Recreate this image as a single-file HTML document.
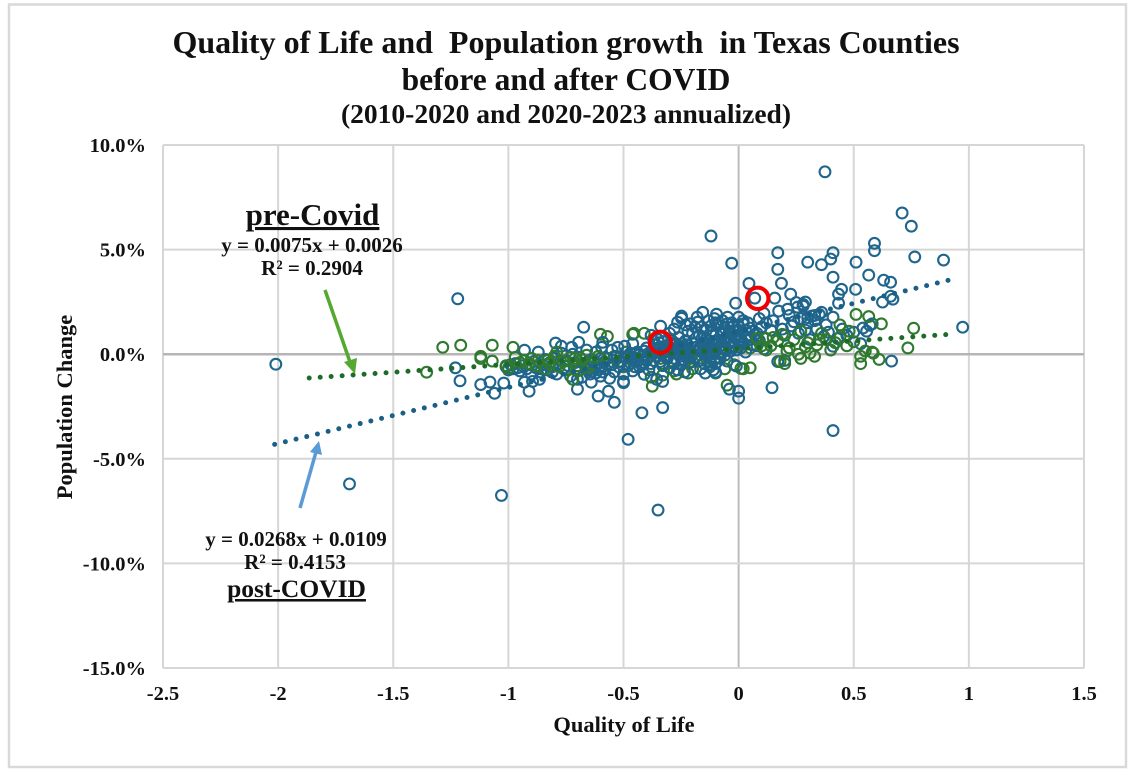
<!DOCTYPE html>
<html lang="en">
<head>
<meta charset="utf-8">
<title>Quality of Life and Population growth in Texas Counties</title>
<style>
html,body{margin:0;padding:0;background:#fff;}
svg{display:block;}
text{font-family:"Liberation Serif",serif;font-weight:bold;fill:#111;white-space:pre;}
</style>
</head>
<body>
<svg id="chart" xmlns="http://www.w3.org/2000/svg" width="1136" height="775" viewBox="0 0 1136 775">
  <rect x="9" y="4.5" width="1117" height="762.5" fill="#fff" stroke="#d9d9d9" stroke-width="2.5"/>
  <g id="grid"></g>
  <g id="points"></g>
  <g id="trends"></g>
  <g id="ticks"></g>

  <text x="566" y="53" text-anchor="middle" font-size="32">Quality of Life and  Population growth  in Texas Counties</text>
  <text x="566" y="90" text-anchor="middle" font-size="31.5">before and after COVID</text>
  <text x="566" y="123" text-anchor="middle" font-size="27.5">(2010-2020 and 2020-2023 annualized)</text>

  <text x="624" y="732" text-anchor="middle" font-size="22.5">Quality of Life</text>
  <text transform="translate(72,407) rotate(-90)" text-anchor="middle" font-size="22.5">Population Change</text>

  <text x="312.5" y="225" text-anchor="middle" font-size="31" text-decoration="underline">pre-Covid</text>
  <text x="312" y="252" text-anchor="middle" font-size="21">y = 0.0075x + 0.0026</text>
  <text x="312" y="275" text-anchor="middle" font-size="21">R² = 0.2904</text>

  <text x="296" y="546" text-anchor="middle" font-size="21">y = 0.0268x + 0.0109</text>
  <text x="295" y="569" text-anchor="middle" font-size="21">R² = 0.4153</text>
  <text x="296.5" y="597" text-anchor="middle" font-size="25.5" text-decoration="underline">post-COVID</text>

  <g>
    <line x1="325" y1="290" x2="350" y2="362" stroke="#55a832" stroke-width="3.5"/>
    <polygon points="355,374 344,362 357,358" fill="#55a832"/>
  </g>
  <g>
    <line x1="300" y1="508" x2="316" y2="452" stroke="#5b9bd5" stroke-width="3.5"/>
    <polygon points="319,441 310,452 322,455" fill="#5b9bd5"/>
  </g>
</svg>

<script>
const xTicks = [-2.5, -2, -1.5, -1, -0.5, 0, 0.5, 1, 1.5];
const xTickLabels = ["-2.5", "-2", "-1.5", "-1", "-0.5", "0", "0.5", "1", "1.5"];
const yTicks = [10, 5, 0, -5, -10, -15];
const yTickLabels = ["10.0%", "5.0%", "0.0%", "-5.0%", "-10.0%", "-15.0%"];

// Post-COVID counties: [quality of life, population change %]
const postCovidOutliers = [
[-2.01,-0.48],[-1.69,-6.2],[-1.03,-6.75],[-0.35,-7.45],[-0.48,-4.07],[-0.42,-2.8],[-0.33,-2.55],[-1.22,2.65],
[-1.21,-1.27],[-1.23,-0.65],[-1.12,-1.45],[-1.08,-1.33],[-1.06,-1.87],[-1.02,-1.38],[-0.12,5.65],[-0.03,4.35],
[0.045,3.38],[-0.013,2.44],[0.375,8.72],[0.71,6.75],[0.75,6.12],[0.59,5.3],[0.59,4.95],[0.41,4.85],[0.40,4.55],
[0.30,4.4],[0.36,4.28],[0.51,4.4],[0.765,4.65],[0.89,4.5],[0.17,4.85],[0.17,4.06],[0.41,3.68],[0.565,3.78],
[0.63,3.54],[0.66,3.44],[0.186,3.39],[0.447,3.1],[0.508,3.1],[0.434,2.87],[0.66,2.77],[0.67,2.63],[0.625,2.49],
[0.434,2.44],[0.226,2.87],[0.29,2.49],[0.973,1.29],[0.664,-0.33],[0.5,1.05],[0.556,1.1],[0.41,0.38],[0.41,1.77],
[0.36,2.0],[0.317,1.82],[0.41,-3.65],[0.145,-1.6],[-0.04,-1.67],[0,-2.1],[0,-1.77],[0.157,2.68],[0.07,2.68],
[0.174,2.06],[0.213,2.15],[0.25,2.47],[0.256,2.25],[0.28,2.38],[0.3,1.75],[0.33,1.6],[0.27,1.7],[0.24,1.55],
[-0.156,2.0],[-0.18,1.77],[-0.178,1.53],[-0.096,1.91],[-0.048,1.77],[0,1.77],[-0.248,1.82],[-0.248,1.72],
[-0.265,1.53],[-0.339,1.34],[-0.673,1.29],[-0.795,0.53],[-0.695,0.57],[-0.93,0.19],[-0.87,0.1],[-0.725,0.33],
[-0.77,0.38],[-0.59,0.57],[-0.595,0.33],[-0.495,0.38],[-0.525,0.33],[-0.61,-2.0],[-0.54,-2.3],[-0.565,-1.77],
[-0.70,-1.67],[-0.91,-1.77],[-0.33,-1.3],[-0.356,-1.2],[-0.5,-1.3],[-0.5,-1.36],[-0.41,-0.96],[-0.64,-1.34],
[-0.865,-1.2],[-0.895,-1.3],[-0.93,-1.34],[-0.7,-1.2],[-0.81,-0.86],[-0.1,-0.86],[-0.05,-0.33],[-0.01,-0.57],
[0.08,1.0],[0.12,1.5],[0.15,1.6],[0.19,1.2],[0.2,0.9],[0.23,1.35],[0.26,1.0],[0.34,1.2],[0.37,0.85],[0.31,0.7],
[0.29,1.15],[0.38,1.4],[0.43,0.75],[0.47,0.9],[0.2,-0.3],[0.17,-0.35],[0.28,2.3],[0.35,1.9],[0.3,1.5],[0.54,1.25],
[0.57,1.38],[0.58,1.45],[0.53,0.5],[0.45,1.2],[0.39,1.05],[0.11,1.95],[0.14,1.15],[0.09,1.7],[0.22,1.85],[0.33,1.85]
];
const postCovidCore = [
[-1.01,-0.6],[-1.0,-0.75],[-0.99,-0.5],[-0.98,-0.7],[-0.97,-0.45],[-0.96,-0.65],[-0.95,-0.8],[-0.94,-0.55],
[-0.92,-0.7],[-0.91,-0.5],[-0.9,-0.95],[-0.89,-0.35],[-0.88,-0.65],[-0.86,-0.85],[-0.85,-0.5],[-0.84,-0.25],
[-0.83,-0.75],[-0.82,-0.4],[-0.81,-0.6],[-0.8,-0.2],[-0.79,-0.95],[-0.78,-0.45],[-0.77,0.05],[-0.76,-0.7],
[-0.75,-0.3],[-0.74,-0.55],[-0.73,-1.05],[-0.72,0],[-0.71,-0.4],[-0.7,-0.8],[-0.69,-0.15],[-0.68,-1.1],[-0.67,-0.5],
[-0.66,-0.75],[-0.65,-0.4],[-0.645,-0.95],[-0.64,-0.6],[-0.635,-0.8],[-0.63,-0.3],[-0.625,-0.7],[-0.62,-0.9],
[-0.615,-0.5],[-0.61,-0.75],[-0.605,-0.6],[-0.6,-1.05],[-0.595,-0.65],[-0.59,-0.85],[-0.585,-0.4],[-0.58,-0.7],
[-0.57,-0.2],[-0.56,-1.15],[-0.55,-0.5],[-0.54,-0.85],[-0.53,-0.1],[-0.52,-0.6],[-0.51,-0.35],[-0.5,-0.95],
[-0.49,-0.15],[-0.48,-0.55],[-0.47,0.05],[-0.46,-0.8],[-0.45,-0.3],[-0.44,0.1],[-0.43,-0.6],[-0.42,-0.1],
[-0.41,-0.4],[-0.4,0.3],[-0.39,-0.75],[-0.38,0.05],[-0.37,-0.3],[-0.36,0.45],[-0.35,0.7],[-0.345,0.55],[-0.34,0.35],
[-0.335,0.8],[-0.33,-0.55],[-0.325,0.6],[-0.32,0.1],[-0.31,-0.2],[-0.3,0.25],[-0.29,0.65],[-0.28,-0.45],[-0.27,0.05],
[-0.265,0.35],[-0.26,0.8],[-0.255,-0.1],[-0.25,0.2],[-0.245,0.5],[-0.24,-0.25],[-0.235,0.1],[-0.23,0.65],[-0.225,-0.05],
[-0.22,0.3],[-0.215,-0.4],[-0.21,0.15],[-0.2,0.55],[-0.19,-0.15],[-0.18,0.35],[-0.17,0.9],[-0.165,-0.3],[-0.16,0.1],
[-0.155,0.55],[-0.15,-0.45],[-0.145,0.25],[-0.14,0.75],[-0.135,-0.1],[-0.13,0.35],[-0.125,-0.6],[-0.12,0.05],
[-0.115,0.5],[-0.11,1.1],[-0.105,-0.25],[-0.1,0.2],[-0.095,0.65],[-0.09,1.4],[-0.085,-0.15],[-0.08,0.4],[-0.075,1.0],
[-0.07,0.1],[-0.065,0.7],[-0.06,1.25],[-0.055,0.3],[-0.05,0.85],[-0.045,0.5],[-0.04,1.1],[-0.035,0.15],[-0.03,0.65],
[-0.025,1.3],[-0.02,0.4],[-0.015,0.9],[-0.01,0.2],[-0.005,1.15],[0,0.6],[0.005,0.85],[0.01,0.3],[0.015,1.05],[0.02,0.55],
[0.03,0.1],[0.04,0.8],[0.05,1.25],[0.06,0.45],[0.07,0.95],[0.09,0.65],[0.1,1.3],[0.11,0.25],[-0.22,1.1],[-0.21,1.45],
[-0.16,1.3],[-0.13,1.6],[-0.1,1.5],[-0.07,1.6],[-0.3,1.0],[-0.38,0.9],[-0.46,0.5],[-0.55,0.2],[-0.62,0.1],[-0.66,0.2]
];
const postCovidDenseCenter = [
[-0.48,-0.1],[-0.47,-0.42],[-0.46,-0.15],[-0.45,-0.6],[-0.44,-0.35],[-0.43,0.0],[-0.42,-0.5],[-0.41,0.15],[-0.4,-0.2],
[-0.39,0.05],[-0.38,-0.45],[-0.37,0.25],[-0.36,-0.1],[-0.35,0.3],[-0.34,-0.35],[-0.33,0.15],[-0.32,-0.1],[-0.31,0.4],
[-0.3,-0.65],[-0.29,0.1],[-0.285,0.45],[-0.28,-0.2],[-0.275,0.25],[-0.27,0.5],[-0.265,-0.75],[-0.26,0.0],[-0.255,0.3],
[-0.25,-0.5],[-0.245,0.05],[-0.24,0.35],[-0.235,-0.85],[-0.23,0.15],[-0.225,0.45],[-0.22,-0.15],[-0.215,0.2],
[-0.17,0.3],[-0.165,-0.7],[-0.16,0.55],[-0.155,0.1],[-0.15,0.8],[-0.145,-0.9],[-0.14,0.4],[-0.135,0.05],[-0.13,0.65],
[-0.125,-0.35],[-0.12,1.35],[-0.115,0.9],[-0.11,-0.75],[-0.105,1.7],[-0.1,-0.45],[-0.09,0.7],[-0.08,-0.2],[-0.07,0.95],
[-0.06,-0.05],[-0.05,1.45],[-0.04,0.55],[-0.03,0.3],[-0.02,1.1],[-0.01,0.85],[0,1.35],[0.01,0.7],[0.02,1.6],[0.03,1.15],
[0.04,1.5],[0.05,0.7],[0.06,1.1],[0.08,0.4],[-0.2,1.0],[-0.19,1.3],[-0.28,1.2],[-0.23,1.4],[-0.14,1.15],[-0.03,1.5],[0.02,1.45]
];
// Pre-COVID counties drawn beneath the post-COVID cloud (centre of the band)
const preCovidUnderlay = [
[-0.6,0.95],[-0.57,0.85],[-0.6,-0.2],[-0.57,-0.5],[-0.54,-0.1],[-0.52,-0.35],[-0.49,0.1],[-0.47,-0.2],[-0.45,0.0],
[-0.455,1.0],[-0.46,0.95],[-0.41,1.0],[-0.38,-1.1],[-0.375,-1.53],[-0.4,-0.3],[-0.37,0.1],[-0.34,-0.2],[-0.31,0.25],
[-0.28,-0.4],[-0.22,-0.9],[-0.28,-0.8],[-0.25,0.35],[-0.21,-0.1],[-0.18,0.2],[-0.15,0.4],[-0.12,-0.15],[-0.1,-0.9],
[-0.1,0.5],[-0.08,0.1],[-0.05,-1.48],[-0.03,1.0],[-0.02,-0.5],[0.01,-0.68],[0.02,-0.7],[0.05,-0.65],[0.05,0.3],
[-0.2,-0.35],[-0.14,-0.2],[-0.06,0.2],[0.0,0.35],[-0.33,-0.45],[-0.5,-0.6],[-0.33,-1.0],[-0.27,-0.95],[-0.2,-0.7],[-0.06,-0.7]
];
// Pre-COVID counties drawn above the post-COVID cloud (left and right ends)
const preCovidOverlay = [
[-1.355,-0.86],[-1.285,0.33],[-1.207,0.43],[-1.12,-0.1],[-1.12,-0.2],[-1.07,-0.33],[-1.07,0.43],[-0.98,0.33],[-1.0,-0.67],
[-0.95,-0.4],[-0.9,-0.2],[-0.88,-0.55],[-0.84,-0.7],[-0.8,-0.1],[-0.79,0.1],[-0.76,-0.35],
[-0.73,-0.15],[-0.7,-0.55],[-0.72,-1.2],[-0.68,-0.25],[-0.66,-0.05],[-0.64,-0.45],[-0.75,-0.75],[-0.83,-0.3],
[-0.97,-0.15],[-1.01,-0.55],[-0.93,-0.3],[-0.91,-0.45],[-0.87,-0.3],
[-0.82,-0.45],[-0.78,-0.6],[-0.71,-0.2],[-0.69,-0.75],[-0.65,-0.6],[-0.61,-0.1],
[0.08,0.75],[0.12,0.75],[0.12,0.2],[0.15,0.8],[0.18,-0.35],[0.2,-0.45],[0.22,0.3],[0.26,0.0],[0.27,-0.2],[0.3,0.55],
[0.33,-0.1],[0.34,0.45],[0.38,0.7],[0.4,0.2],[0.44,0.8],[0.47,0.4],[0.5,0.6],[0.53,-0.45],[0.58,0.1],[0.61,-0.25],
[0.585,0.05],[0.53,-0.1],[0.51,1.9],[0.565,1.8],[0.62,1.45],[0.44,1.4],[0.76,1.24],[0.735,0.3],[0.55,0.15],[0.48,1.1],
[0.36,1.0],[0.27,1.1],[0.19,0.95],[0.1,0.4],[0.14,0.4],[0.17,0.65],[0.21,0.15],[0.24,0.7],[0.29,0.35],[0.31,0.05],[0.35,0.7],[0.42,0.55]
];
// Highlighted counties: [quality of life, population change %]
const highlightedPoints = [[-0.34,0.57],[0.083,2.67]];

// Trendline coefficients (slope, intercept, in fractions) and x extents
const postCovidFit = [0.0268, 0.0109];
const preCovidFit = [0.0075, 0.0026];
const postCovidRange = [-2.015, 0.93];
const preCovidRange = [-1.865, 0.925];

const NS = 'http://www.w3.org/2000/svg';
const xDomain = [-2.5, 1.5];
const yDomain = [-15, 10];
function xScale(v){ return 163 + (v - xDomain[0]) * (1084 - 163) / (xDomain[1] - xDomain[0]); }
function yScale(v){ return 145 + (yDomain[1] - v) * (668 - 145) / (yDomain[1] - yDomain[0]); }
function make(tag, attrs, parent){
  const el = document.createElementNS(NS, tag);
  for (const k in attrs) el.setAttribute(k, attrs[k]);
  parent.appendChild(el);
  return el;
}
const grid = document.getElementById('grid');
const pointsG = document.getElementById('points');
const trends = document.getElementById('trends');
const ticks = document.getElementById('ticks');

xTicks.forEach(function(t, i){
  const isZero = t === 0;
  const line = make('line', {x1:xScale(t), x2:xScale(t), y1:yScale(yDomain[1]), y2:yScale(yDomain[0]), stroke:isZero?'#bdbdbd':'#d6d6d6', 'stroke-width':2}, grid);
  
  
  const label = make('text', {x:xScale(t), y:700, 'text-anchor':'middle', 'font-size':20.5}, ticks);
  
  
  label.textContent = xTickLabels[i];
});
yTicks.forEach(function(t, i){
  const isZero = t === 0;
  const line = make('line', {x1:xScale(xDomain[0]), x2:xScale(xDomain[1]), y1:yScale(t), y2:yScale(t), stroke:isZero?'#b5b5b5':'#d6d6d6', 'stroke-width':isZero?2.5:2}, grid);
  
  
  const label = make('text', {x:146, y:yScale(t)+7, 'text-anchor':'end', 'font-size':20.5}, ticks);
  
  
  label.textContent = yTickLabels[i];
});

preCovidUnderlay.forEach(function(p){
  const c = make('circle', {cx:xScale(p[0]), cy:yScale(p[1]), r:5.4, fill:'none', stroke:'#2f7a2f', 'stroke-width':2.1}, pointsG);
  
  
});
postCovidOutliers.concat(postCovidCore, postCovidDenseCenter).forEach(function(p){
  const c = make('circle', {cx:xScale(p[0]), cy:yScale(p[1]), r:5.4, fill:'none', stroke:'#1f658c', 'stroke-width':2.1}, pointsG);
  
  
});
preCovidOverlay.forEach(function(p){
  const c = make('circle', {cx:xScale(p[0]), cy:yScale(p[1]), r:5.4, fill:'none', stroke:'#2f7a2f', 'stroke-width':2.1}, pointsG);
  
  
});

function fitLine(fit, range, color){
  const y0 = (fit[0] * range[0] + fit[1]) * 100;
  const y1 = (fit[0] * range[1] + fit[1]) * 100;
  return make('line', {x1:xScale(range[0]), y1:yScale(y0), x2:xScale(range[1]), y2:yScale(y1), stroke:color, 'stroke-width':5, 'stroke-linecap':'round', 'stroke-dasharray':'0 11'}, trends);
}
const postLine = fitLine(postCovidFit, postCovidRange, '#1a5f86');


const preLine = fitLine(preCovidFit, preCovidRange, '#1e6b27');



highlightedPoints.forEach(function(p){
  const c = make('circle', {cx:xScale(p[0]), cy:yScale(p[1]), r:10.7, fill:'none', stroke:'#f00000', 'stroke-width':4}, trends);
  
  
});
</script>
</body>
</html>
